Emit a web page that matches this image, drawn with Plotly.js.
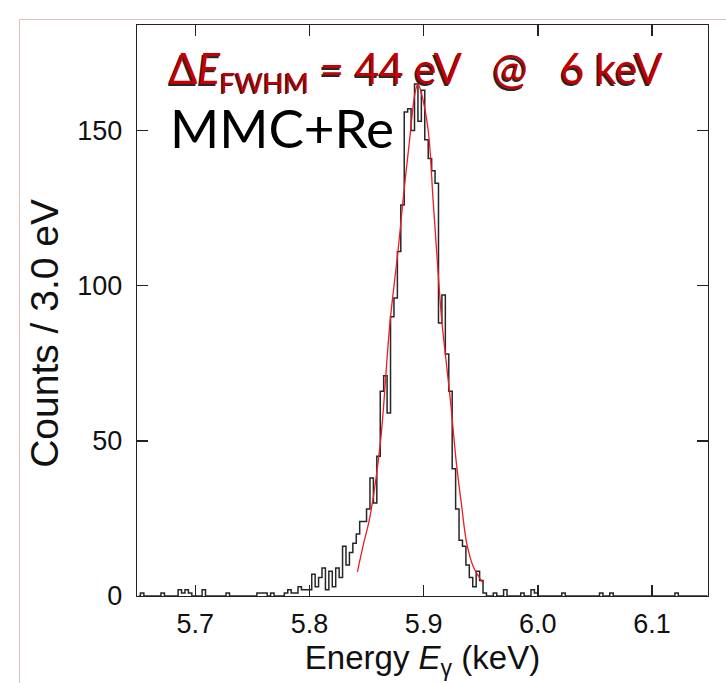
<!DOCTYPE html>
<html>
<head>
<meta charset="utf-8">
<script src="https://cdn.plot.ly/plotly-3.0.1.min.js"></script>
<style>
  html, body { margin: 0; padding: 0; background: #fff; }
  #wrap { position: relative; width: 726px; height: 683px; overflow: hidden; }
  #frame { position: absolute; left: 19px; top: 19px; width: 900px; height: 900px;
           border-left: 1.5px solid #e6bcbc; border-top: 1.5px solid #e6bcbc; pointer-events: none; }
  #chart { position: absolute; left: 0; top: 0; width: 726px; height: 683px; }
</style>
</head>
<body>
<div id="wrap">
  <div id="frame"></div>
  <div id="chart"></div>
</div>
<script>
// Histogram: 3.0 eV bins starting at 5.649 keV
const binStart = 5.649;   // keV, left edge of first bin
const binWidth = 0.003;   // keV (3.0 eV)
const counts = [
  0,1,0,0,0,0,0,1,0,0,
  0,0,2,1,2,1,0,0,0,2,
  0,0,0,0,0,0,1,0,0,0,
  0,0,0,0,0,1,1,1,0,1,
  0,0,0,1,2,1,1,3,2,2,
  2,7,3,6,9,2,8,3,9,6,
  16,10,14,17,20,24,24,28,38,30,
  45,66,71,59,90,96,111,126,156,157,
  150,165,153,163,147,141,137,133,88,97,
  78,66,41,28,18,16,10,6,3,8,
  5,1,0,0,1,0,0,2,0,0,
  0,0,1,0,0,2,1,0,0,0,
  0,0,0,0,1,0,0,0,0,0,
  0,0,0,0,0,1,0,0,1,0,
  0,0,0,0,0,0,0,0,0,0,
  0,0,0,0,0,0,0,1,0,0,
  0,0,0,0,0,0,0
];
// Fitted curve, points
const fitEnergy = [5.8420, 5.8471, 5.8530, 5.8620, 5.8705, 5.8778, 5.8821, 5.8880, 5.8924, 5.8950,
                   5.8980, 5.9040, 5.9084, 5.9158, 5.9187, 5.9237, 5.9289, 5.9333, 5.9377, 5.9435, 5.9522];
const fitCounts = [7.8, 16.4, 25.6, 49, 88, 112, 128, 148, 162, 165,
                   162, 150, 127, 89, 79, 62, 42, 29, 17, 9.4, 4.1];
const xTicks = [5.7, 5.8, 5.9, 6.0, 6.1];
const xTickText = ['5.7', '5.8', '5.9', '6.0', '6.1'];
const yTicks = [0, 50, 100, 150];
const yTickText = ['0', '50', '100', '150'];

const binCenters = counts.map((_, i) => binStart + binWidth * (i + 0.5));

const hist = {
  x: binCenters, y: counts, type: 'scatter', mode: 'lines',
  line: { shape: 'hvh', color: '#262626', width: 1.5 },
  hoverinfo: 'skip'
};
const fit = {
  x: fitEnergy, y: fitCounts, type: 'scatter', mode: 'lines',
  line: { shape: 'spline', smoothing: 1, color: '#ec1c24', width: 1.3 },
  hoverinfo: 'skip'
};

const tickFont = { family: 'Liberation Sans, Arial, sans-serif', size: 27, color: '#111' };
const titleFont = { family: 'Liberation Sans, Arial, sans-serif', size: 33, color: '#111' };

const layout = {
  width: 726, height: 683,
  margin: { l: 137, r: 18, t: 25, b: 87 },
  paper_bgcolor: 'rgba(0,0,0,0)', plot_bgcolor: 'rgba(0,0,0,0)',
  showlegend: false,
  xaxis: {
    range: [5.649, 6.149], tickvals: xTicks, ticktext: xTickText,
    ticks: 'inside', ticklen: 11, tickwidth: 1.4, tickcolor: '#222',
    mirror: 'ticks', showline: true, linewidth: 1.4, linecolor: '#222',
    showgrid: false, zeroline: false, tickfont: tickFont, ticklabelstandoff: 3,
    title: { text: 'Energy <i>E</i><sub>γ</sub> (keV)', font: titleFont, standoff: 8 }
  },
  yaxis: {
    range: [0, 184], tickvals: yTicks, ticktext: yTickText,
    ticks: 'inside', ticklen: 11, tickwidth: 1.4, tickcolor: '#222',
    mirror: 'ticks', showline: true, linewidth: 1.4, linecolor: '#222',
    showgrid: false, zeroline: false, tickfont: tickFont, ticklabelstandoff: 8
  },
  annotations: [
    {
      xref: 'paper', yref: 'paper', x: -0.162, y: 0.46, xanchor: 'center', yanchor: 'middle',
      textangle: -90, showarrow: false, text: 'Counts / 3.0 eV', font: { ...titleFont, size: 39 }
    },
    {
      xref: 'paper', yref: 'paper', x: 0.052, y: 0.92, xanchor: 'left', yanchor: 'middle',
      showarrow: false,
      text: 'Δ<i>E</i><sub><span style="font-size:27px">FWHM</span></sub> = 44 eV\u00a0\u00a0\u00a0@\u00a0\u00a0\u00a06 keV',
      font: { family: 'Lato, Open Sans, sans-serif', size: 42, color: '#c40000',
              shadow: '-1.5px 1.5px 0.5px rgba(0,0,0,0.85)' }
    },
    {
      xref: 'paper', yref: 'paper', x: 0.054, y: 0.82, xanchor: 'left', yanchor: 'middle',
      showarrow: false, text: 'MMC+Re',
      font: { family: 'Lato, Open Sans, sans-serif', size: 53, color: '#000' }
    }
  ]
};

Plotly.newPlot('chart', [hist, fit], layout, { staticPlot: true, displayModeBar: false });
</script>
</body>
</html>
